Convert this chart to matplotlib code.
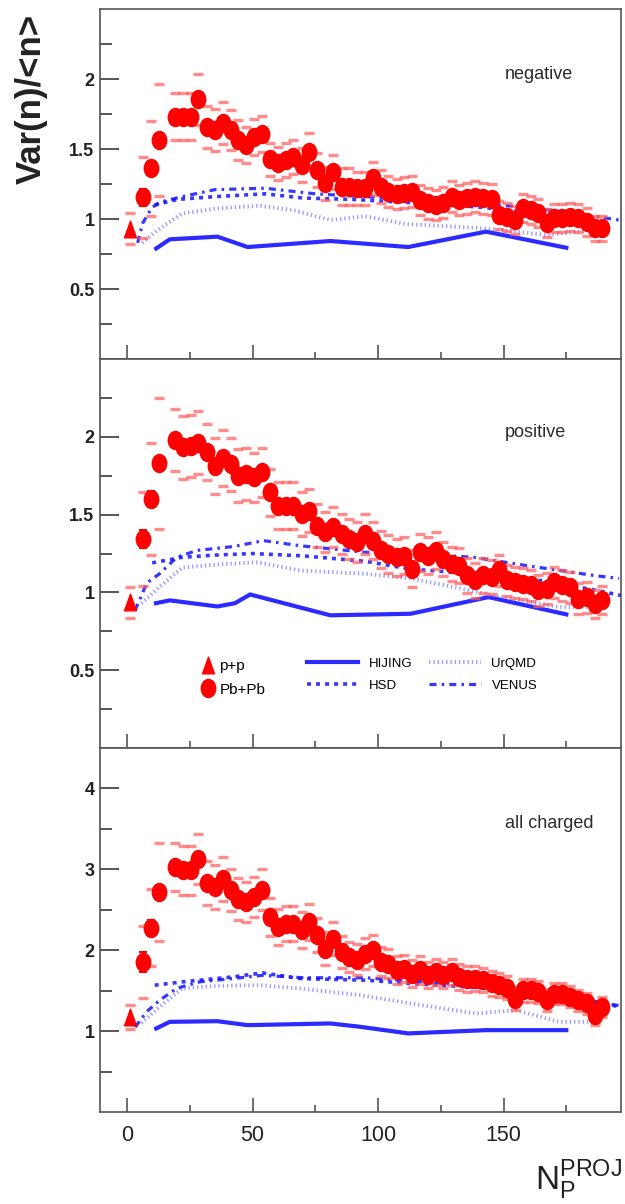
import matplotlib
matplotlib.use("Agg")
import matplotlib.pyplot as plt
from matplotlib.path import Path
from matplotlib.transforms import Affine2D
from matplotlib.lines import Line2D

plt.rcParams["font.family"] = ["Liberation Sans", "DejaVu Sans"]
plt.rcParams["mathtext.fontset"] = "custom"
plt.rcParams["mathtext.rm"] = "Liberation Sans"

# ---- data ----
# projectile participants of the Pb+Pb centrality bins (same for all panels)
np_pbpb = [6.5, 9.6, 12.9, 19.1, 22.2, 25.4, 28.4, 31.7, 35.1, 38.1, 41.3, 44.3, 47.4,
           50.6, 53.8, 57.0, 60.3, 63.3, 66.3, 69.6, 72.6, 75.8, 79.0, 82.2, 85.5, 88.6,
           91.8, 94.8, 97.9, 101.1, 104.1, 107.4, 110.5, 113.4, 116.7, 120.0, 123.1,
           126.0, 129.4, 132.4, 135.6, 138.6, 142.0, 145.3, 148.3, 151.5, 154.6, 157.9,
           160.8, 163.9, 167.2, 170.2, 173.4, 176.5, 179.8, 183.1, 186.3, 189.2]
np_pp = 1.0

neg_pbpb = [1.155, 1.362, 1.564, 1.731, 1.731, 1.731, 1.855, 1.66, 1.636, 1.683, 1.636,
            1.564, 1.53, 1.588, 1.607, 1.426, 1.398, 1.421, 1.445, 1.386, 1.481, 1.35,
            1.255, 1.338, 1.231, 1.231, 1.219, 1.219, 1.29, 1.231, 1.195, 1.179, 1.188,
            1.195, 1.136, 1.112, 1.1, 1.117, 1.16, 1.136, 1.148, 1.16, 1.148, 1.14, 1.029,
            1.017, 0.993, 1.076, 1.064, 1.04, 0.969, 1.005, 1.005, 1.017, 1.005, 0.98,
            0.933, 0.933]
neg_sys = [0.29, 0.34, 0.40, 0.17, 0.17, 0.17, 0.18, 0.15, 0.15, 0.15, 0.14, 0.14, 0.13,
           0.13, 0.13, 0.12, 0.12, 0.12, 0.12, 0.12, 0.13, 0.12, 0.12, 0.12, 0.13, 0.13,
           0.12, 0.12, 0.12, 0.12, 0.11, 0.11, 0.11, 0.11, 0.11, 0.11, 0.11, 0.11, 0.11,
           0.11, 0.11, 0.11, 0.11, 0.11, 0.10, 0.10, 0.10, 0.10, 0.10, 0.10, 0.10, 0.10,
           0.10, 0.10, 0.10, 0.10, 0.09, 0.09]
neg_stat = [0.06, 0.05, 0.04]
neg_pp, neg_pp_sys = 0.93, 0.11

pos_pbpb = [1.344, 1.6, 1.829, 1.979, 1.932, 1.942, 1.963, 1.9, 1.814, 1.867, 1.825, 1.75,
            1.761, 1.739, 1.771, 1.643, 1.558, 1.558, 1.558, 1.504, 1.526, 1.429, 1.387,
            1.419, 1.376, 1.344, 1.323, 1.376, 1.333, 1.274, 1.248, 1.226, 1.237, 1.152,
            1.258, 1.237, 1.269, 1.216, 1.184, 1.173, 1.109, 1.077, 1.109, 1.098, 1.141,
            1.077, 1.066, 1.056, 1.045, 1.013, 1.024, 1.066, 1.045, 1.034, 0.959, 0.97,
            0.927, 0.949]
pos_sys = [0.30, 0.36, 0.42, 0.20, 0.20, 0.20, 0.20, 0.18, 0.18, 0.18, 0.17, 0.17, 0.17,
           0.16, 0.16, 0.15, 0.15, 0.15, 0.15, 0.14, 0.14, 0.14, 0.13, 0.13, 0.13, 0.13,
           0.13, 0.13, 0.12, 0.12, 0.12, 0.12, 0.12, 0.12, 0.12, 0.12, 0.12, 0.11, 0.11,
           0.11, 0.11, 0.11, 0.11, 0.11, 0.10, 0.10, 0.10, 0.10, 0.10, 0.10, 0.10, 0.10,
           0.10, 0.10, 0.10, 0.10, 0.09, 0.09]
pos_stat = [0.06, 0.05, 0.04]
pos_pp, pos_pp_sys = 0.938, 0.10

all_pbpb = [1.856, 2.28, 2.72, 3.028, 2.988, 2.988, 3.132, 2.831, 2.782, 2.885, 2.749,
            2.638, 2.596, 2.658, 2.749, 2.411, 2.288, 2.329, 2.329, 2.247, 2.349, 2.185,
            2.021, 2.144, 1.979, 1.918, 1.885, 1.959, 2.0, 1.856, 1.835, 1.753, 1.774,
            1.712, 1.753, 1.691, 1.732, 1.691, 1.732, 1.67, 1.65, 1.65, 1.63, 1.589, 1.568,
            1.539, 1.403, 1.506, 1.506, 1.486, 1.383, 1.465, 1.465, 1.424, 1.383, 1.342,
            1.198, 1.3]
all_sys = [0.45, 0.48, 0.60, 0.30, 0.30, 0.30, 0.31, 0.27, 0.27, 0.27, 0.26, 0.26, 0.25,
           0.25, 0.25, 0.23, 0.22, 0.22, 0.22, 0.22, 0.22, 0.21, 0.20, 0.20, 0.20, 0.19,
           0.19, 0.19, 0.19, 0.18, 0.18, 0.17, 0.17, 0.17, 0.17, 0.16, 0.16, 0.16, 0.16,
           0.16, 0.16, 0.15, 0.15, 0.15, 0.15, 0.14, 0.14, 0.14, 0.14, 0.14, 0.14, 0.13,
           0.13, 0.13, 0.13, 0.13, 0.12, 0.12]
all_stat = [0.12, 0.10, 0.08]
all_pp, all_pp_sys = 1.177, 0.15

# model curves (N_P, value)
hij_neg_x = [11.6, 17, 36, 48, 81, 112, 143, 175]
hij_neg_y = [0.79, 0.855, 0.874, 0.80, 0.843, 0.80, 0.91, 0.795]
hsd_neg_x = [11, 20, 35, 55, 70, 90, 110, 130, 150, 170, 186]
hsd_neg_y = [1.10, 1.14, 1.16, 1.18, 1.15, 1.14, 1.12, 1.10, 1.07, 1.03, 1.0]
urq_neg_x = [6, 12, 22, 36, 53, 66, 81, 95, 111, 127, 142, 155, 167, 185]
urq_neg_y = [0.83, 0.92, 1.04, 1.076, 1.095, 1.064, 0.993, 1.02, 0.964, 0.95, 0.933,
             0.91, 0.886, 0.92]
ven_neg_x = [4.2, 6.2, 9.8, 13, 22, 35, 55, 75, 95, 115, 135, 155, 175, 197]
ven_neg_y = [0.83, 0.97, 1.08, 1.12, 1.16, 1.21, 1.22, 1.18, 1.16, 1.14, 1.12, 1.09,
             1.05, 0.99]

hij_pos_x = [11.5, 17, 36, 43, 49, 81, 113, 144, 175]
hij_pos_y = [0.931, 0.949, 0.91, 0.931, 0.987, 0.853, 0.863, 0.97, 0.859]
hsd_pos_x = [10, 22, 35, 50, 70, 95, 113, 130, 146, 160, 172, 185, 197]
hsd_pos_y = [1.19, 1.226, 1.24, 1.25, 1.235, 1.20, 1.15, 1.13, 1.12, 1.09, 1.055, 1.02,
             0.98]
urq_pos_x = [5.7, 12.9, 22, 36, 52, 69, 95, 113, 133, 146, 160, 172, 186]
urq_pos_y = [0.93, 1.034, 1.16, 1.18, 1.194, 1.141, 1.12, 1.09, 1.025, 0.98, 0.94,
             0.906, 0.906]
ven_pos_x = [3.2, 7.8, 12.9, 19.8, 27.8, 42.4, 54.4, 69, 95, 113, 138, 159, 186, 196]
ven_pos_y = [0.885, 1.06, 1.12, 1.226, 1.27, 1.295, 1.333, 1.30, 1.258, 1.25, 1.226,
             1.173, 1.109, 1.09]

hij_all_x = [11.6, 17, 36, 48, 81, 93, 112, 143, 175]
hij_all_y = [1.033, 1.115, 1.123, 1.074, 1.095, 1.053, 0.972, 1.012, 1.012]
hsd_all_x = [11, 22, 42, 54, 69, 95, 113, 146, 172, 197]
hsd_all_y = [1.568, 1.609, 1.67, 1.72, 1.65, 1.63, 1.59, 1.527, 1.424, 1.30]
urq_all_x = [5.7, 12.9, 22, 36, 53, 69, 93, 113, 139, 155, 172, 186]
urq_all_y = [1.1, 1.3, 1.53, 1.56, 1.568, 1.527, 1.444, 1.342, 1.218, 1.259, 1.115, 1.115]
ven_all_x = [3.2, 7.8, 12.9, 19.8, 29, 42, 54, 70, 95, 113, 135, 160, 186, 197]
ven_all_y = [1.05, 1.24, 1.38, 1.53, 1.61, 1.65, 1.69, 1.66, 1.66, 1.62, 1.57, 1.47,
             1.37, 1.31]

# ---- styles ----
RED = "#ff0000"
SYS_RED = "#ff5a5a"
BLUE = "#1414ff"
oval = Path.unit_circle().transformed(Affine2D().scale(0.8, 1.0))
tri = Path([(-0.36, -0.5), (0.36, -0.5), (0.0, 0.5), (-0.36, -0.5)],
           [Path.MOVETO, Path.LINETO, Path.LINETO, Path.CLOSEPOLY])

styles = {
    "HIJING": dict(color=BLUE, lw=3.0, ls="-", alpha=0.9),
    "HSD": dict(color=BLUE, lw=2.6, ls=(0, (1.1, 1.4)), alpha=0.85),
    "UrQMD": dict(color="#5c5cff", lw=2.8, ls=(0, (0.35, 0.75)), alpha=0.6),
    "VENUS": dict(color=BLUE, lw=2.3, ls=(0, (2.2, 1.6, 0.8, 1.6)), alpha=0.85),
}


def draw_panel(ax, pbpb, sys, stat, pp, pp_sys, models, ylim, yticks, yminor, label, label_y):
    for name, (mx, my) in models.items():
        ax.plot(mx, my, zorder=2, **styles[name])

    # systematic errors as small dashes above and below each point
    up = [v + s for v, s in zip(pbpb, sys)]
    lo = [v - s for v, s in zip(pbpb, sys)]
    ax.plot(np_pbpb, up, ls="none", marker="_", ms=7, mew=2.4, color=SYS_RED, alpha=0.7, zorder=3)
    ax.plot(np_pbpb, lo, ls="none", marker="_", ms=7, mew=2.4, color=SYS_RED, alpha=0.7, zorder=3)
    ax.plot([np_pp, np_pp], [pp + pp_sys, pp - pp_sys], ls="none", marker="_", ms=7,
            mew=2.4, color=SYS_RED, alpha=0.7, zorder=3)

    ax.errorbar(np_pbpb[:len(stat)], pbpb[:len(stat)], yerr=stat, fmt="none",
                ecolor=RED, elinewidth=1.5, capsize=3, capthick=1.5, zorder=4)
    ax.plot(np_pbpb, pbpb, ls="none", marker=oval, ms=13, color=RED, mec=RED, zorder=5)
    ax.plot([np_pp], [pp], ls="none", marker=tri, ms=12, color=RED, mec=RED, zorder=5)

    ax.set_xlim(-10.8, 196.8)
    ax.set_ylim(*ylim)
    ax.set_xticks([0, 50, 100, 150])
    ax.set_xticks([25, 75, 125, 175], minor=True)
    ax.set_yticks(yticks, [f"{t:g}" for t in yticks], fontweight="bold")
    ax.set_yticks(yminor, minor=True)
    ax.tick_params(axis="y", which="major", direction="in", length=14, width=1.4,
                   color="#555555", labelsize=13, labelcolor="#222222", pad=4)
    ax.tick_params(axis="y", which="minor", direction="in", length=8.5, width=1.4, color="#555555")
    ax.tick_params(axis="x", which="major", direction="in", length=10, width=1.2,
                   color="#555555", labelsize=15.5, labelcolor="#222222", pad=9)
    ax.tick_params(axis="x", which="minor", direction="in", length=5, width=1.2, color="#555555")
    for sp in ax.spines.values():
        sp.set_color("#555555")
        sp.set_linewidth(1.2)
    ax.text(0.777, label_y, label, transform=ax.transAxes, fontsize=13,
            color="#2a2a2a", ha="left", va="center")


fig = plt.figure(figsize=(6.25, 12.04), dpi=100)
ax1 = fig.add_axes([0.16, 0.7018, 0.8336, 0.2907])
ax2 = fig.add_axes([0.16, 0.3787, 0.8336, 0.3231])
ax3 = fig.add_axes([0.16, 0.0764, 0.8336, 0.3023])

draw_panel(ax1, neg_pbpb, neg_sys, neg_stat, neg_pp, neg_pp_sys,
           {"HIJING": (hij_neg_x, hij_neg_y), "HSD": (hsd_neg_x, hsd_neg_y),
            "UrQMD": (urq_neg_x, urq_neg_y), "VENUS": (ven_neg_x, ven_neg_y)},
           (0, 2.5), [0.5, 1, 1.5, 2], [0.25, 0.75, 1.25, 1.75, 2.25], "negative", 0.814)
draw_panel(ax2, pos_pbpb, pos_sys, pos_stat, pos_pp, pos_pp_sys,
           {"HIJING": (hij_pos_x, hij_pos_y), "HSD": (hsd_pos_x, hsd_pos_y),
            "UrQMD": (urq_pos_x, urq_pos_y), "VENUS": (ven_pos_x, ven_pos_y)},
           (0, 2.5), [0.5, 1, 1.5, 2], [0.25, 0.75, 1.25, 1.75, 2.25], "positive", 0.812)
draw_panel(ax3, all_pbpb, all_sys, all_stat, all_pp, all_pp_sys,
           {"HIJING": (hij_all_x, hij_all_y), "HSD": (hsd_all_x, hsd_all_y),
            "UrQMD": (urq_all_x, urq_all_y), "VENUS": (ven_all_x, ven_all_y)},
           (0, 4.5), [1, 2, 3, 4], [0.5, 1.5, 2.5, 3.5], "all charged", 0.794)

ax1.tick_params(axis="x", labelbottom=False)
ax2.tick_params(axis="x", labelbottom=False)

# legend in the middle panel
mark_handles = [Line2D([], [], ls="none", marker=tri, ms=12, color=RED),
                Line2D([], [], ls="none", marker=oval, ms=13, color=RED)]
leg1 = ax2.legend(mark_handles, ["p+p", "Pb+Pb"], loc="center left",
                  bbox_to_anchor=(0.178, 0.18), frameon=False, fontsize=11,
                  handlelength=1.0, handletextpad=0.25, labelspacing=0.6, borderpad=0)
ax2.add_artist(leg1)
line_names = ["HIJING", "HSD", "UrQMD", "VENUS"]
line_handles = [Line2D([], [], **styles[n]) for n in line_names]
ax2.legend(line_handles, line_names, loc="center left", ncol=2,
           bbox_to_anchor=(0.384, 0.188), frameon=False, fontsize=9.5,
           handlelength=3.9, handletextpad=0.8, labelspacing=0.75, columnspacing=1.3,
           borderpad=0)

fig.text(31 / 625, 1 - 14 / 1204, "Var(n)/<n>", rotation=90, ha="center", va="top",
         fontsize=25, fontweight="bold", color="#222222")
fig.text(622 / 625, 2 / 1204, r"$\mathrm{N}_{\mathrm{P}}^{\mathrm{PROJ}}$", ha="right",
         va="bottom", fontsize=24, color="#222222")

fig.savefig("out.png", dpi=100)
